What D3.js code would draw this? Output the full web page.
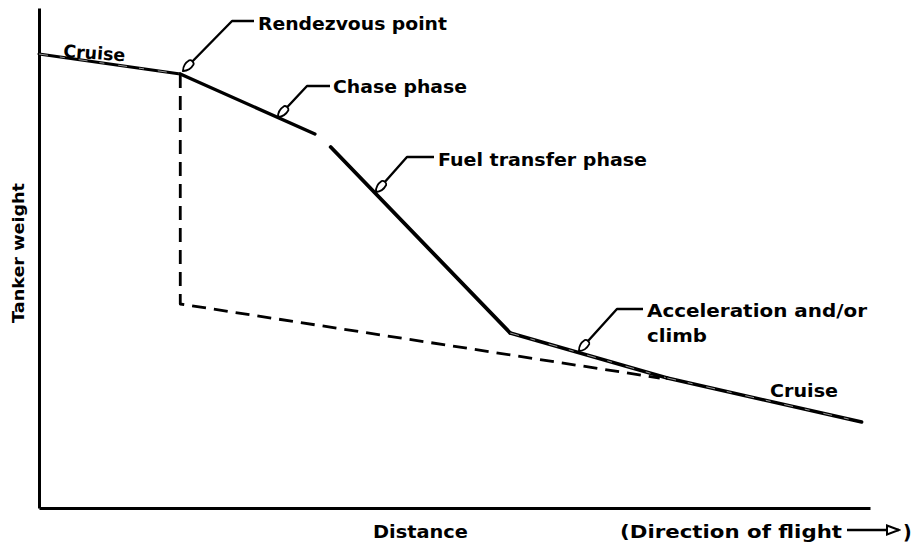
<!DOCTYPE html>
<html>
<head>
<meta charset="utf-8">
<script src="https://cdn.jsdelivr.net/npm/d3@7"></script>
<style>
  html, body { margin: 0; padding: 0; background: #fff; }
  svg text { font-family: "DejaVu Sans", sans-serif; font-weight: bold; fill: #000; }
</style>
</head>
<body>
<div id="chart"></div>
<script>
// distance (0-100, arbitrary) vs tanker weight (0-100, arbitrary)
var cruiseIn = [[0, 90.8], [17, 86.8]];
var chase = [[17, 86.8], [33.2, 74.8]];
var fuelTransfer = [[35.1, 72.2], [56.7, 35]];
var accelClimb = [[56.7, 35], [75.6, 26]];
var cruiseOut = [[75.6, 26], [99, 17.2]];
// weight path with no chase / transfer (dashed)
var noTransfer = [[17, 86.8], [17, 40.8], [74.7, 26]];

var xTitle = 'Distance';
var yTitle = 'Tanker weight';
var flightNote = '(Direction of flight';

// label anchor + leader (tip, corner, end) in data units
var notes = [
  { text: 'Rendezvous point', at: [26.35, 95.6], len: 189, leader: [[17.33, 87.4], [23.23, 97.4], [25.87, 97.4]] },
  { text: 'Chase phase', at: [35.38, 83], len: 134, leader: [[28.76, 78.2], [32.25, 84.4], [35.02, 84.4]] },
  { text: 'Fuel transfer phase', at: [48.01, 68.4], len: 209, leader: [[40.55, 63.2], [44.28, 70.2], [47.53, 70.2]] },
  { text: 'Acceleration and/or', at: [73.16, 38.2], len: 220, leader: [[64.98, 31.4], [69.55, 39.8], [72.68, 39.8]] },
  { text: 'climb', at: [73.16, 33.2], len: 60 },
  { text: 'Cruise', at: [2.89, 90.2], len: 62, rot: 4 },
  { text: 'Cruise', at: [87.97, 22.2], len: 68 }
];

var W = 916, H = 548;

var svg = d3.select('#chart')
  .append('svg')
    .attr('width', W)
    .attr('height', H);

var x = d3.scaleLinear().domain([0, 100]).range([39, 870]);
var y = d3.scaleLinear().domain([0, 100]).range([508, 8]);

// arrowheads for the leaders
var defs = svg.append('defs');
defs.append('marker')
    .attr('id', 'tip')
    .attr('viewBox', '-1 -5 16 10')
    .attr('markerUnits', 'userSpaceOnUse')
    .attr('markerWidth', 16)
    .attr('markerHeight', 10)
    .attr('refX', 0)
    .attr('refY', 0)
    .attr('orient', 'auto')
  .append('path')
    .attr('d', 'M0,0 C3,-3 8,-4 12,-3 C14,-2 14,2 12,3 C8,4 3,3 0,0 Z')
    .attr('fill', '#fff')
    .attr('stroke', '#000')
    .attr('stroke-width', 1.8);

defs.append('marker')
    .attr('id', 'head')
    .attr('viewBox', '-14 -6 16 12')
    .attr('markerUnits', 'userSpaceOnUse')
    .attr('markerWidth', 16)
    .attr('markerHeight', 12)
    .attr('refX', 0)
    .attr('refY', 0)
    .attr('orient', 'auto')
  .append('path')
    .attr('d', 'M0,0 L-12,-4.5 L-12,4.5 Z')
    .attr('fill', '#fff')
    .attr('stroke', '#000')
    .attr('stroke-width', 2);

// axes: just the domain lines
svg.append('g')
    .attr('class', 'axis')
    .attr('transform', `translate(0, ${y(0)})`)
    .call(d3.axisBottom(x).ticks(0).tickSize(0).tickSizeOuter(0));

svg.append('g')
    .attr('class', 'axis')
    .attr('transform', `translate(${x(0)}, 0)`)
    .call(d3.axisLeft(y).ticks(0).tickSize(0).tickSizeOuter(0));

svg.selectAll('.axis .domain')
    .attr('stroke', '#000')
    .attr('stroke-width', 3);

var line = d3.line()
  .x(d => x(d[0]))
  .y(d => y(d[1]));

// dashed alternative first so solid lines sit on top
svg.append('path')
    .datum(noTransfer)
    .attr('d', line)
    .attr('fill', 'none')
    .attr('stroke', '#000')
    .attr('stroke-width', 2.8)
    .attr('stroke-dasharray', '14,8')
    .attr('stroke-linejoin', 'round');

var segs = [
  { d: cruiseIn, w: 3, hollow: true },
  { d: chase, w: 3.4, hollow: false },
  { d: fuelTransfer, w: 3.8, hollow: false },
  { d: accelClimb, w: 3.4, hollow: true },
  { d: cruiseOut, w: 3.4, hollow: true }
];

segs.forEach(function (s) {
  svg.append('path')
      .datum(s.d)
      .attr('d', line)
      .attr('fill', 'none')
      .attr('stroke', '#000')
      .attr('stroke-width', s.w)
      .attr('stroke-linecap', 'round');
  // scanned thick lines come out partly hollow, keep it faint
  if (s.hollow) {
    svg.append('path')
        .datum(s.d)
        .attr('d', line)
        .attr('fill', 'none')
        .attr('stroke', '#fff')
        .attr('stroke-width', 0.6)
        .attr('stroke-dasharray', '9,12,5,14');
  }
});

// leaders
var leader = d3.line()
  .x(d => x(d[0]))
  .y(d => y(d[1]))
  .curve(d3.curveLinear);

svg.selectAll('.leader')
  .data(notes.filter(n => n.leader))
  .enter()
    .append('path')
    .attr('class', 'leader')
    .attr('d', n => leader(n.leader))
    .attr('fill', 'none')
    .attr('stroke', '#000')
    .attr('stroke-width', 2.4)
    .attr('stroke-linejoin', 'round')
    .attr('marker-start', 'url(#tip)');

// labels
svg.selectAll('.note')
  .data(notes)
  .enter()
    .append('text')
    .attr('class', 'note')
    .attr('transform', n => `translate(${x(n.at[0])}, ${y(n.at[1])}) rotate(${n.rot || 0})`)
    .attr('font-size', 17.5)
    .attr('textLength', n => n.len)
    .attr('lengthAdjust', 'spacingAndGlyphs')
    .text(n => n.text);

// axis titles
svg.append('text')
    .attr('x', 373)
    .attr('y', 538)
    .attr('font-size', 17.5)
    .attr('textLength', 95)
    .attr('lengthAdjust', 'spacingAndGlyphs')
    .text(xTitle);

svg.append('text')
    .attr('transform', 'translate(24, 253) rotate(-90)')
    .attr('text-anchor', 'middle')
    .attr('font-size', 16.5)
    .attr('textLength', 140)
    .attr('lengthAdjust', 'spacingAndGlyphs')
    .text(yTitle);

svg.append('text')
    .attr('x', 620)
    .attr('y', 538)
    .attr('font-size', 17.5)
    .attr('textLength', 222)
    .attr('lengthAdjust', 'spacingAndGlyphs')
    .text(flightNote);

svg.append('line')
    .attr('x1', 847)
    .attr('x2', 899)
    .attr('y1', 530)
    .attr('y2', 530)
    .attr('stroke', '#000')
    .attr('stroke-width', 2.6)
    .attr('marker-end', 'url(#head)');

svg.append('text')
    .attr('x', 903)
    .attr('y', 539)
    .attr('font-size', 19)
    .text(')');
</script>
</body>
</html>
